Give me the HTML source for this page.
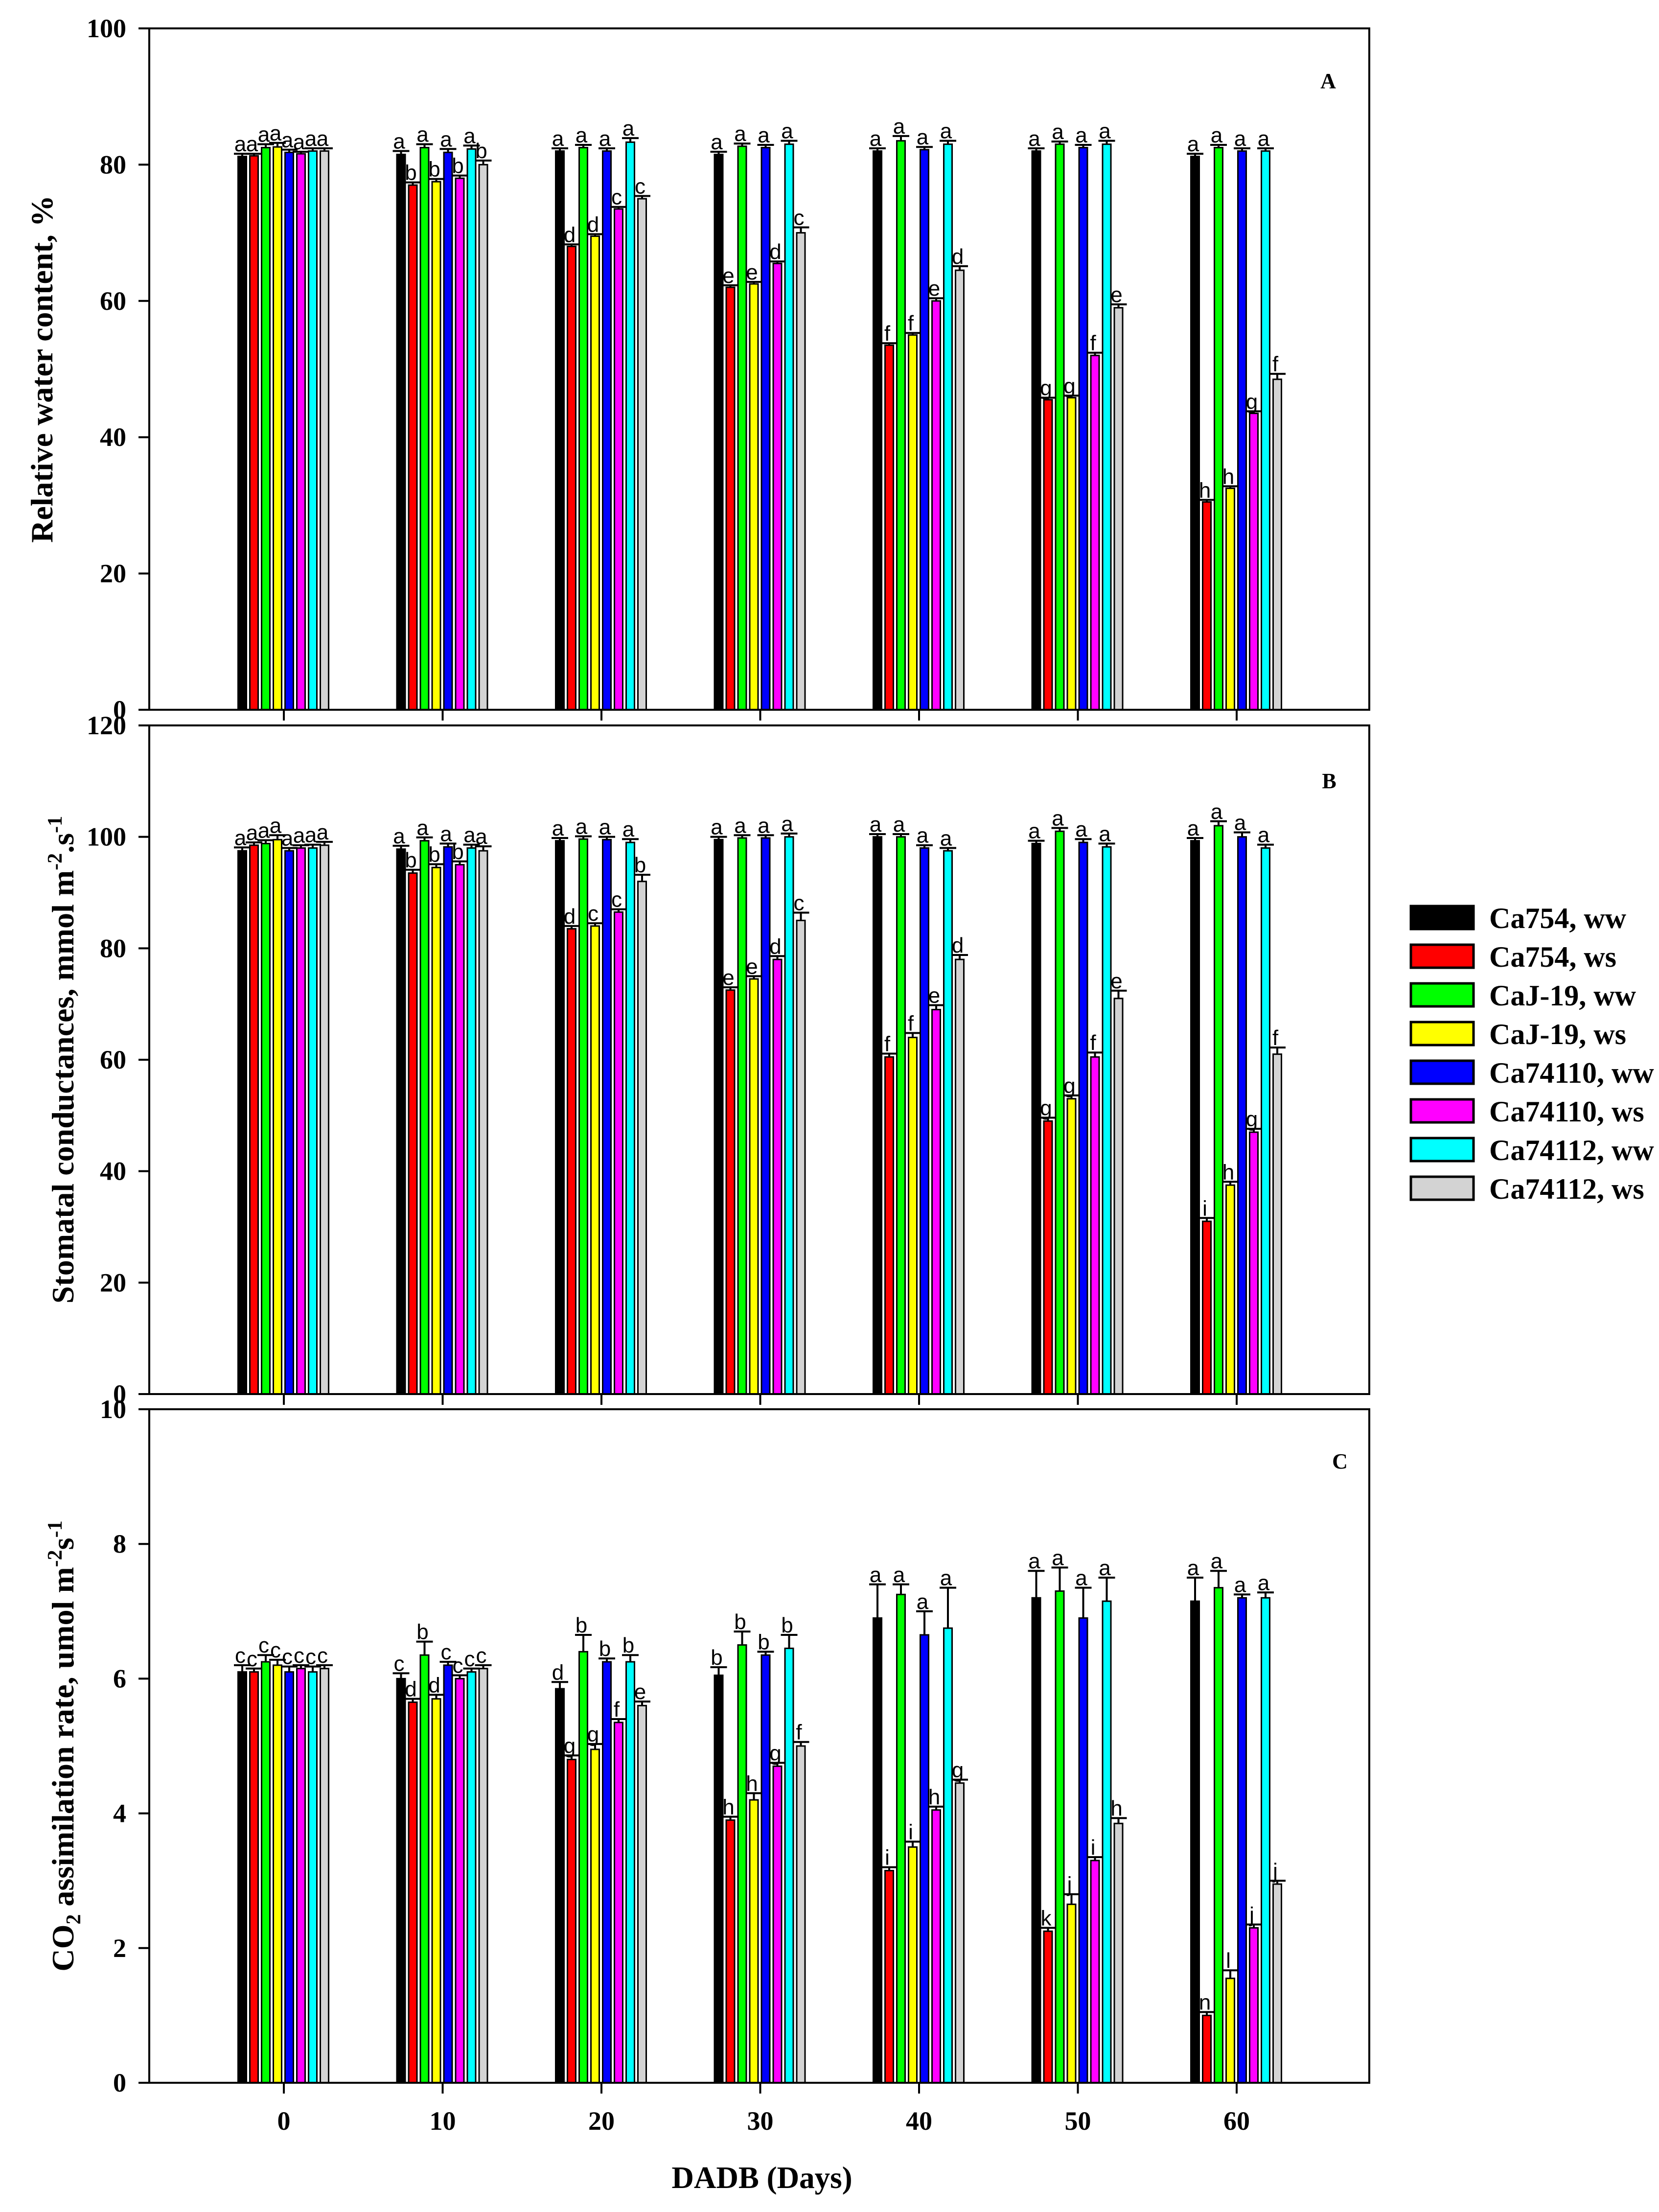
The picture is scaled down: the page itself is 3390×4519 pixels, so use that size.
<!DOCTYPE html>
<html><head><meta charset="utf-8">
<style>
html,body{margin:0;padding:0;background:#fff;}
svg{display:block;}
text{font-family:"Liberation Serif",serif;}
.let{font-family:"Liberation Sans",sans-serif;font-size:44px;}
</style></head>
<body>
<svg id="chart" width="3390" height="4519" viewBox="0 0 3390 4519"></svg>
<script>
const days = [0,10,20,30,40,50,60];
const seriesNames = ["Ca754, ww","Ca754, ws","CaJ-19, ww","CaJ-19, ws","Ca74110, ww","Ca74110, ws","Ca74112, ww","Ca74112, ws"];
const colors = ["#000000","#ff0000","#00ff00","#ffff00","#0000ff","#ff00ff","#00ffff","#d3d3d3"];
// Panel A: relative water content (%) rows = days, cols = series
const rwc = [
 [81.2,81.3,82.5,82.6,81.8,81.6,82.0,82.0],
 [81.5,77.0,82.5,77.5,81.8,78.0,82.3,80.0],
 [82.0,68.0,82.5,69.5,82.0,73.5,83.3,75.0],
 [81.5,62.0,82.7,62.5,82.5,65.5,83.0,70.0],
 [82.0,53.5,83.5,55.0,82.2,60.0,83.0,64.5],
 [82.0,45.5,83.0,45.8,82.5,52.0,83.0,59.0],
 [81.2,30.5,82.5,32.5,82.0,43.5,82.0,48.5]];
const rwcErr = [
 [0.4,0.3,0.5,0.6,0.4,0.3,0.4,0.4],
 [0.5,0.4,0.5,0.4,0.5,0.4,0.5,0.6],
 [0.4,0.3,0.4,0.3,0.4,0.3,0.6,0.4],
 [0.4,0.3,0.4,0.3,0.4,0.3,0.5,0.8],
 [0.4,0.3,0.7,0.3,0.4,0.4,0.5,0.6],
 [0.4,0.3,0.4,0.3,0.4,0.4,0.5,0.5],
 [0.4,0.3,0.4,0.3,0.4,0.3,0.4,0.8]];
const rwcLet = [
 ["a","a","a","a","a","a","a","a"],
 ["a","b","a","b","a","b","a","b"],
 ["a","d","a","d","a","c","a","c"],
 ["a","e","a","e","a","d","a","c"],
 ["a","f","a","f","a","e","a","d"],
 ["a","g","a","g","a","f","a","e"],
 ["a","h","a","h","a","g","a","f"]];
// Panel B: stomatal conductance
const gs = [
 [97.5,98.5,98.8,99.5,97.5,98.0,98.0,98.5],
 [97.8,93.5,99.3,94.5,98.2,95.0,98.0,97.5],
 [99.3,83.5,99.6,84.0,99.5,86.5,99.0,92.0],
 [99.5,72.5,99.8,74.5,99.8,78.0,100.0,85.0],
 [100.0,60.5,100.0,64.0,98.0,69.0,97.5,78.0],
 [98.8,49.0,101.0,53.0,99.0,60.5,98.2,71.0],
 [99.3,31.0,102.0,37.5,100.0,47.0,98.0,61.0]];
const gsErr = [
 [0.6,0.5,0.6,0.8,0.5,0.5,0.6,0.6],
 [0.6,0.6,0.6,0.6,0.6,0.6,0.6,0.8],
 [0.5,0.5,0.5,0.5,0.5,0.5,0.6,1.2],
 [0.5,0.5,0.5,0.5,0.5,0.6,0.6,1.4],
 [0.5,0.6,0.5,0.8,0.5,0.8,0.5,0.8],
 [0.5,0.6,0.6,0.6,0.6,0.8,0.6,1.4],
 [0.5,0.6,0.8,0.6,0.8,0.6,0.6,1.2]];
const gsLet = [
 ["a","a","a","a","a","a","a","a"],
 ["a","b","a","b","a","b","a","a"],
 ["a","d","a","c","a","c","a","b"],
 ["a","e","a","e","a","d","a","c"],
 ["a","f","a","f","a","e","a","d"],
 ["a","g","a","g","a","f","a","e"],
 ["a","i","a","h","a","g","a","f"]];
// Panel C: CO2 assimilation rate
const co2 = [
 [6.10,6.10,6.25,6.20,6.10,6.15,6.10,6.15],
 [6.00,5.65,6.35,5.70,6.20,6.00,6.10,6.15],
 [5.85,4.80,6.40,4.95,6.25,5.35,6.25,5.60],
 [6.05,3.90,6.50,4.20,6.35,4.70,6.45,5.00],
 [6.90,3.15,7.25,3.50,6.65,4.05,6.75,4.45],
 [7.20,2.25,7.30,2.65,6.90,3.30,7.15,3.85],
 [7.15,1.00,7.35,1.55,7.20,2.30,7.20,2.95]];
const co2Err = [
 [0.10,0.05,0.10,0.08,0.08,0.05,0.08,0.05],
 [0.08,0.05,0.20,0.06,0.05,0.05,0.05,0.05],
 [0.10,0.06,0.25,0.08,0.05,0.05,0.10,0.06],
 [0.12,0.05,0.20,0.10,0.05,0.05,0.20,0.06],
 [0.50,0.05,0.15,0.08,0.35,0.05,0.60,0.05],
 [0.40,0.05,0.35,0.15,0.45,0.05,0.35,0.08],
 [0.35,0.05,0.25,0.12,0.05,0.05,0.08,0.05]];
const co2Let = [
 ["c","c","c","c","c","c","c","c"],
 ["c","d","b","d","c","c","c","c"],
 ["d","g","b","g","b","f","b","e"],
 ["b","h","b","h","b","g","b","f"],
 ["a","i","a","i","a","h","a","g"],
 ["a","k","a","j","a","i","a","h"],
 ["a","n","a","l","a","j","a","j"]];
const ticksA = [0,20,40,60,80,100];
const ticksB = [0,20,40,60,80,100,120];
const ticksC = [0,2,4,6,8,10];

const NS = "http://www.w3.org/2000/svg";
const svg = document.getElementById("chart");
function mk(tag, attrs, parent){ const e=document.createElementNS(NS,tag); for(const k in attrs) e.setAttribute(k,attrs[k]); (parent||svg).appendChild(e); return e; }

const X0 = 305, X1 = 2798;
function xScale(day){ return 580 + day*32.45; }

const panels = [
 {id:"a", top:58, bot:1450, max:100, vals:rwc, err:rwcErr, lets:rwcLet, ticks:ticksA, tag:"A", tagX:2714, tagY:180},
 {id:"b", top:1482, bot:2848, max:120, vals:gs, err:gsErr, lets:gsLet, ticks:ticksB, tag:"B", tagX:2716, tagY:1610},
 {id:"c", top:2879, bot:4255, max:10, vals:co2, err:co2Err, lets:co2Let, ticks:ticksC, tag:"C", tagX:2738, tagY:3000}
];

panels.forEach((p,pi)=>{
  const g = mk("g",{});
  
  
  const y = v => p.bot - v/p.max*(p.bot-p.top);
  days.forEach((d,di)=>{
    const cx = xScale(d);
    const start = cx - 95;
    p.vals[di].forEach((v,si)=>{
      const bx = start + si*24;
      const yt = y(v);
      const r = mk("rect",{x:bx+1.5,y:yt,width:17,height:p.bot-yt,fill:colors[si],stroke:"#000","stroke-width":3},g);
      
      
      const ye = y(v+p.err[di][si]);
      const mid = bx+10;
      const l = mk("line",{x1:mid,y1:yt,x2:mid,y2:ye,stroke:"#000","stroke-width":4},g);
      
      
      const c = mk("line",{x1:mid-17,y1:ye,x2:mid+17,y2:ye,stroke:"#000","stroke-width":4},g);
      
      
      const t = mk("text",{x:mid-4,y:ye-5,"text-anchor":"middle",class:"let"},g);
      t.textContent = p.lets[di][si];
      
      
    });
    const tk = mk("line",{x1:cx,y1:p.bot,x2:cx,y2:p.bot+22,stroke:"#000","stroke-width":4},g);
    
    
  });
  const fr = mk("rect",{x:X0,y:p.top,width:X1-X0,height:p.bot-p.top,fill:"none",stroke:"#000","stroke-width":4},g);
  
  
  p.ticks.forEach(t=>{
    const yy = y(t);
    const tl = mk("line",{x1:283,y1:yy,x2:X0,y2:yy,stroke:"#000","stroke-width":4},g);
    
    
    const tx = mk("text",{x:258,y:yy+18,"text-anchor":"end","font-size":54,"font-weight":"bold"},g);
    tx.textContent = String(t);
    
    
  });
  const tg = mk("text",{x:p.tagX,y:p.tagY,"text-anchor":"middle","font-size":44,"font-weight":"bold"},g);
  tg.textContent = p.tag;
  
  
});

days.forEach(d=>{
  const t = mk("text",{x:xScale(d),y:4351,"text-anchor":"middle","font-size":54,"font-weight":"bold"});
  t.textContent = String(d);
  
  
});
</script>
<div style="position:absolute;left:0;top:0;width:3390px;height:4519px;pointer-events:none">
<svg width="3390" height="4519" viewBox="0 0 3390 4519" style="position:absolute;left:0;top:0">
  <text transform="translate(107,754) rotate(-90)" text-anchor="middle" font-size="64" font-weight="bold" font-family="Liberation Serif, serif">Relative water content, %</text>
  <text transform="translate(150,2165) rotate(-90)" text-anchor="middle" font-size="64" font-weight="bold" font-family="Liberation Serif, serif">Stomatal conductances, mmol m<tspan dy="-24" font-size="42">-2</tspan><tspan dy="24">.</tspan>s<tspan dy="-24" font-size="42">-1</tspan></text>
  <text transform="translate(150,3567) rotate(-90)" text-anchor="middle" font-size="64" font-weight="bold" font-family="Liberation Serif, serif">CO<tspan dy="14" font-size="42">2</tspan><tspan dy="-14"> assimilation rate, umol m</tspan><tspan dy="-24" font-size="42">-2</tspan><tspan dy="24">s</tspan><tspan dy="-24" font-size="42">-1</tspan></text>
  <text x="1557" y="4470" text-anchor="middle" font-size="63" font-weight="bold" font-family="Liberation Serif, serif">DADB (Days)</text>
  <g font-family="Liberation Serif, serif" font-size="60" font-weight="bold">
    <g><rect x="2883" y="1851" width="128" height="47" fill="#000" stroke="#000" stroke-width="5"/><text x="3043" y="1896">Ca754, ww</text></g>
    <g><rect x="2883" y="1930" width="128" height="47" fill="#ff0000" stroke="#000" stroke-width="5"/><text x="3043" y="1975">Ca754, ws</text></g>
    <g><rect x="2883" y="2009" width="128" height="47" fill="#00ff00" stroke="#000" stroke-width="5"/><text x="3043" y="2054">CaJ-19, ww</text></g>
    <g><rect x="2883" y="2088" width="128" height="47" fill="#ffff00" stroke="#000" stroke-width="5"/><text x="3043" y="2133">CaJ-19, ws</text></g>
    <g><rect x="2883" y="2167" width="128" height="47" fill="#0000ff" stroke="#000" stroke-width="5"/><text x="3043" y="2212">Ca74110, ww</text></g>
    <g><rect x="2883" y="2246" width="128" height="47" fill="#ff00ff" stroke="#000" stroke-width="5"/><text x="3043" y="2291">Ca74110, ws</text></g>
    <g><rect x="2883" y="2325" width="128" height="47" fill="#00ffff" stroke="#000" stroke-width="5"/><text x="3043" y="2370">Ca74112, ww</text></g>
    <g><rect x="2883" y="2404" width="128" height="47" fill="#d3d3d3" stroke="#000" stroke-width="5"/><text x="3043" y="2449">Ca74112, ws</text></g>
  </g>
</svg>
</div>
</body></html>
